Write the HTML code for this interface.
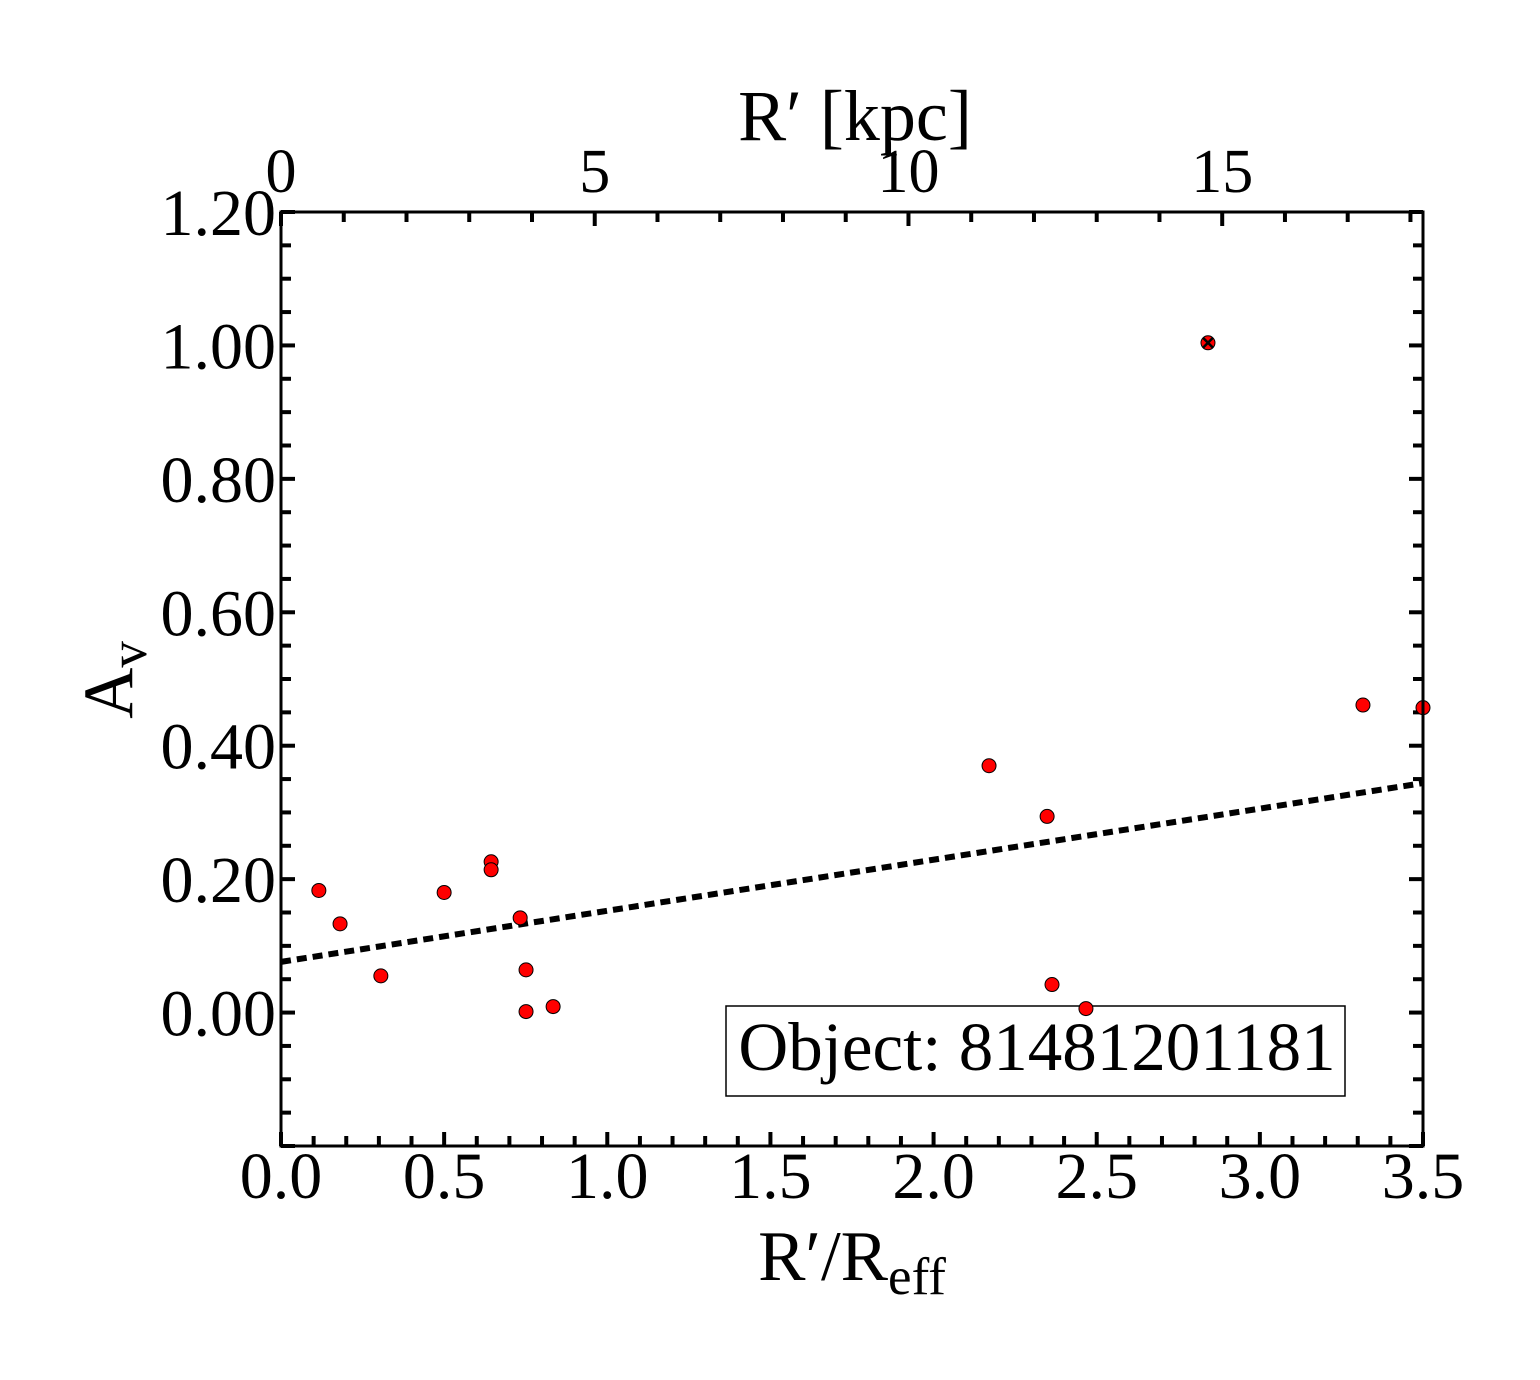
<!DOCTYPE html>
<html><head><meta charset="utf-8"><style>
body{margin:0;background:#fff}
svg text{font-family:"Liberation Serif",serif;fill:#000}
</style></head><body>
<svg id="chart" width="1540" height="1375" xmlns="http://www.w3.org/2000/svg">
<rect x="726" y="1006" width="619" height="90" fill="#fff" stroke="#000" stroke-width="1.5"/>
<text x="1037" y="1070" font-size="69" text-anchor="middle">Object: 81481201181</text>
<g id="ticks"></g>
<g id="marks"></g>
<rect x="281" y="212" width="1142" height="934" fill="none" stroke="#000" stroke-width="3"/>
<text x="855" y="140" font-size="72" text-anchor="middle">R′ [kpc]</text>
<text x="852" y="1280" font-size="71" text-anchor="middle">R′/R<tspan font-size="53" dy="14">eff</tspan></text>
<text transform="translate(132,680) rotate(-90)" font-size="71" text-anchor="middle">A<tspan font-size="53" dy="14">v</tspan></text>
</svg>
<script>
const xVals=[0.116,0.181,0.306,0.5,0.644,0.644,0.733,0.751,0.751,0.834,2.170,2.348,2.363,2.467,2.841,3.316,3.5];
const yVals=[0.183,0.133,0.055,0.18,0.226,0.214,0.142,0.064,0.0015,0.009,0.370,0.294,0.042,0.006,1.004,0.461,0.457];
const flagged=[14];
const fitLine=[[0,0.076],[3.5,0.344]];
const xTicks=[0,0.5,1,1.5,2,2.5,3,3.5];
const yTicks=[0,0.2,0.4,0.6,0.8,1.0,1.2];
const topTicks=[0,5,10,15];
const kpcMax=18.2;
const NS="http://www.w3.org/2000/svg";
const X0=281,X1=1423,Y0=1146,Y1=212;
const sx=v=>X0+(v/3.5)*(X1-X0);
const sy=v=>Y0-((v+0.2)/1.4)*(Y0-Y1);
const sk=v=>X0+(v/kpcMax)*(X1-X0);
function mk(tag,attrs,parent){const e=document.createElementNS(NS,tag);for(const k in attrs)e.setAttribute(k,attrs[k]);parent.appendChild(e);return e;}
const T=document.getElementById('ticks'),M=document.getElementById('marks');
function tick(x1,y1,x2,y2){const l=mk('line',{x1,y1,x2,y2,stroke:'#000','stroke-width':4},T);

}
for(let i=0;i<=35;i++){const v=i/10,x=sx(v),len=i%5===0?14:10;tick(x,Y0,x,Y0-len);}
for(let i=-4;i<=24;i++){const v=i*0.05,y=sy(v),len=i%4===0?14:10;tick(X0,y,X0+len,y);tick(X1,y,X1-len,y);}
for(let i=0;i<=18;i++){const x=sk(i),len=i%5===0?14:10;tick(x,Y1,x,Y1+len);}
xTicks.forEach(v=>{const t=mk('text',{x:sx(v),y:1198,'font-size':66,'text-anchor':'middle'},T);t.textContent=v.toFixed(1);

});
yTicks.forEach(v=>{const t=mk('text',{x:276,y:sy(v)+23,'font-size':66,'text-anchor':'end'},T);t.textContent=v.toFixed(2);

});
topTicks.forEach(v=>{const t=mk('text',{x:sk(v),y:192,'font-size':62,'text-anchor':'middle'},T);t.textContent=v;

});
const fl=mk('line',{x1:sx(fitLine[0][0]),y1:sy(fitLine[0][1]),x2:sx(fitLine[1][0]),y2:sy(fitLine[1][1]),stroke:'#000','stroke-width':6,'stroke-dasharray':'10 6'},M);


xVals.forEach((v,i)=>{const cx=sx(v),cy=sy(yVals[i]);
const c=mk('circle',{cx,cy,r:7,fill:'#ff0000',stroke:'#000','stroke-width':1},M);


if(flagged.includes(i)){const p=mk('path',{d:`M${cx-5} ${cy-5}L${cx+5} ${cy+5}M${cx-5} ${cy+5}L${cx+5} ${cy-5}`,stroke:'#000','stroke-width':2.5},M);

}});
</script>
</body></html>
